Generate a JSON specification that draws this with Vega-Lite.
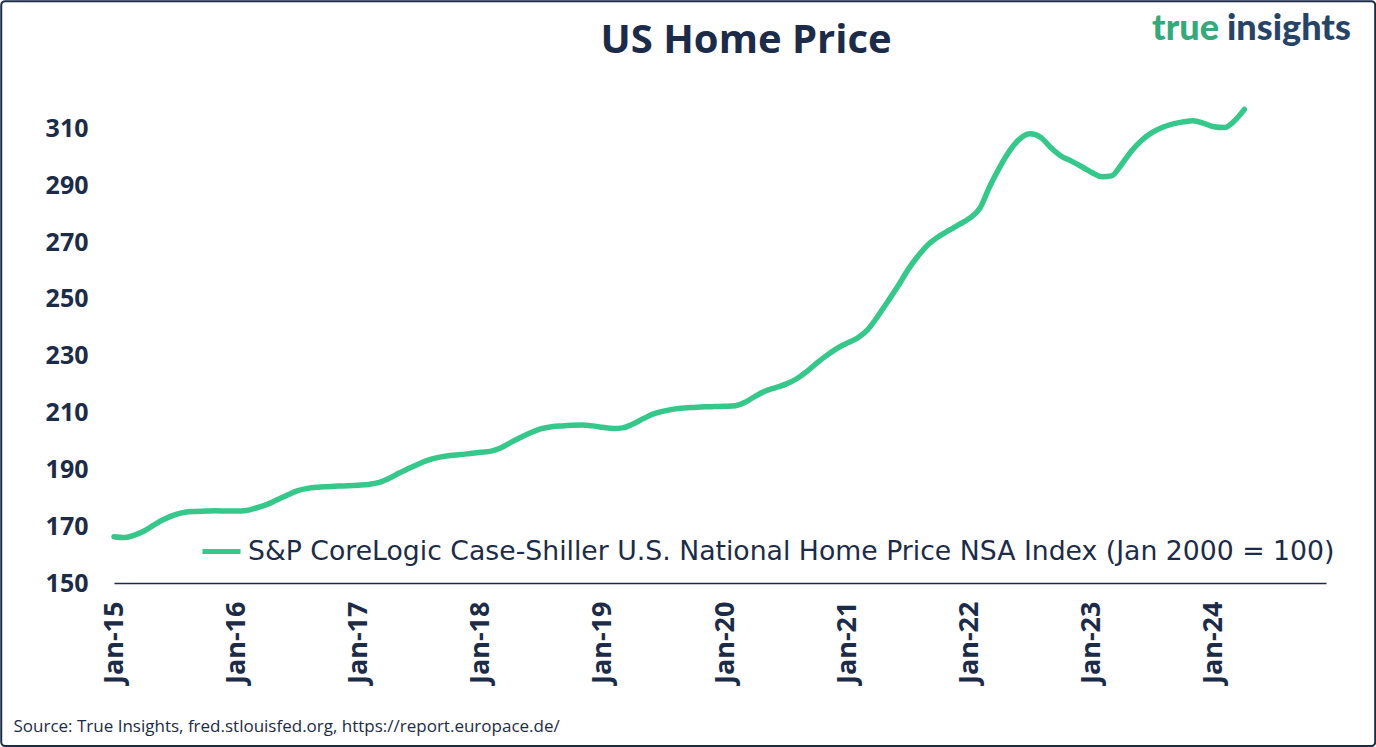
{
 "$schema": "https://vega.github.io/schema/vega-lite/v6.json",
 "width": 1212, "height": 483,
 "autosize": {"type": "none"},
 "padding": {"left": 114, "top": 100, "right": 50, "bottom": 164},
 "background": "white",
 "config": {"view": {"stroke": null}, "font": "Open Sans"},
 "layer": [
  {
   "data": {"values": [{}]},
   "mark": {"type": "rect", "fillOpacity": 0, "stroke": "#1c2b47", "strokeWidth": 2, "cornerRadius": 4},
   "encoding": {
    "x": {"datum": {"year": 2014, "month": 1, "date": 29, "utc": true}, "type": "temporal", "scale": {"type": "utc", "domain": [{"year": 2015, "month": 1, "date": 1, "utc": true}, {"year": 2024, "month": 12, "date": 1, "utc": true}]}},
    "x2": {"datum": {"year": 2025, "month": 4, "date": 27, "utc": true}},
    "y": {"datum": 354.8, "type": "quantitative"},
    "y2": {"datum": 92.6}
   }
  },
  {
   "data": {"values": [{}]},
   "mark": {"type": "text", "text": "US Home Price", "align": "center", "baseline": "alphabetic", "fontSize": 40, "fontWeight": "bold", "font": "Open Sans", "color": "#1c2b47"},
   "encoding": {
    "x": {"datum": {"year": 2020, "month": 3, "date": 4, "utc": true}, "type": "temporal"},
    "y": {"datum": 336.5, "type": "quantitative"}
   }
  },
  {
   "data": {"values": [{}]},
   "mark": {"type": "text", "text": "true", "align": "right", "dx": -4, "baseline": "alphabetic", "fontSize": 36, "fontWeight": 900, "font": "Lato", "color": "#35a97b"},
   "encoding": {
    "x": {"datum": {"year": 2024, "month": 1, "date": 28, "utc": true}, "type": "temporal"},
    "y": {"datum": 341.1, "type": "quantitative"}
   }
  },
  {
   "data": {"values": [{}]},
   "mark": {"type": "text", "text": "insights", "align": "left", "dx": 4, "baseline": "alphabetic", "fontSize": 36, "fontWeight": 900, "font": "Lato", "color": "#264466"},
   "encoding": {
    "x": {"datum": {"year": 2024, "month": 1, "date": 28, "utc": true}, "type": "temporal"},
    "y": {"datum": 341.1, "type": "quantitative"}
   }
  },
  {
   "data": {"values": [
    {"date": "2015-01-01", "value": 166.3}, {"date": "2015-02-01", "value": 166.0}, {"date": "2015-03-01", "value": 166.8}, {"date": "2015-04-01", "value": 168.3},
    {"date": "2015-05-01", "value": 170.5}, {"date": "2015-06-01", "value": 172.5}, {"date": "2015-07-01", "value": 174.0}, {"date": "2015-08-01", "value": 174.9},
    {"date": "2015-09-01", "value": 175.2}, {"date": "2015-10-01", "value": 175.3}, {"date": "2015-11-01", "value": 175.4}, {"date": "2015-12-01", "value": 175.3},
    {"date": "2016-01-01", "value": 175.3}, {"date": "2016-02-01", "value": 175.5}, {"date": "2016-03-01", "value": 176.4}, {"date": "2016-04-01", "value": 177.6},
    {"date": "2016-05-01", "value": 179.2}, {"date": "2016-06-01", "value": 180.9}, {"date": "2016-07-01", "value": 182.4}, {"date": "2016-08-01", "value": 183.3},
    {"date": "2016-09-01", "value": 183.7}, {"date": "2016-10-01", "value": 183.9}, {"date": "2016-11-01", "value": 184.1}, {"date": "2016-12-01", "value": 184.2},
    {"date": "2017-01-01", "value": 184.4}, {"date": "2017-02-01", "value": 184.7}, {"date": "2017-03-01", "value": 185.3}, {"date": "2017-04-01", "value": 186.8},
    {"date": "2017-05-01", "value": 188.6}, {"date": "2017-06-01", "value": 190.4}, {"date": "2017-07-01", "value": 192.0}, {"date": "2017-08-01", "value": 193.4},
    {"date": "2017-09-01", "value": 194.3}, {"date": "2017-10-01", "value": 194.9}, {"date": "2017-11-01", "value": 195.2}, {"date": "2017-12-01", "value": 195.6},
    {"date": "2018-01-01", "value": 196.0}, {"date": "2018-02-01", "value": 196.4}, {"date": "2018-03-01", "value": 197.5}, {"date": "2018-04-01", "value": 199.5},
    {"date": "2018-05-01", "value": 201.3}, {"date": "2018-06-01", "value": 203.0}, {"date": "2018-07-01", "value": 204.3}, {"date": "2018-08-01", "value": 205.0},
    {"date": "2018-09-01", "value": 205.3}, {"date": "2018-10-01", "value": 205.5}, {"date": "2018-11-01", "value": 205.6}, {"date": "2018-12-01", "value": 205.3},
    {"date": "2019-01-01", "value": 204.8}, {"date": "2019-02-01", "value": 204.4}, {"date": "2019-03-01", "value": 204.6}, {"date": "2019-04-01", "value": 206.0},
    {"date": "2019-05-01", "value": 207.8}, {"date": "2019-06-01", "value": 209.5}, {"date": "2019-07-01", "value": 210.5}, {"date": "2019-08-01", "value": 211.2},
    {"date": "2019-09-01", "value": 211.6}, {"date": "2019-10-01", "value": 211.8}, {"date": "2019-11-01", "value": 212.0}, {"date": "2019-12-01", "value": 212.1},
    {"date": "2020-01-01", "value": 212.2}, {"date": "2020-02-01", "value": 212.4}, {"date": "2020-03-01", "value": 213.6}, {"date": "2020-04-01", "value": 215.8},
    {"date": "2020-05-01", "value": 217.6}, {"date": "2020-06-01", "value": 218.8}, {"date": "2020-07-01", "value": 220.0}, {"date": "2020-08-01", "value": 221.8},
    {"date": "2020-09-01", "value": 224.4}, {"date": "2020-10-01", "value": 227.4}, {"date": "2020-11-01", "value": 230.2}, {"date": "2020-12-01", "value": 232.6},
    {"date": "2021-01-01", "value": 234.5}, {"date": "2021-02-01", "value": 236.3}, {"date": "2021-03-01", "value": 239.0}, {"date": "2021-04-01", "value": 243.8},
    {"date": "2021-05-01", "value": 249.0}, {"date": "2021-06-01", "value": 254.5}, {"date": "2021-07-01", "value": 260.3}, {"date": "2021-08-01", "value": 265.3},
    {"date": "2021-09-01", "value": 269.3}, {"date": "2021-10-01", "value": 272.0}, {"date": "2021-11-01", "value": 274.2}, {"date": "2021-12-01", "value": 276.2},
    {"date": "2022-01-01", "value": 278.4}, {"date": "2022-02-01", "value": 282.0}, {"date": "2022-03-01", "value": 289.3}, {"date": "2022-04-01", "value": 296.4},
    {"date": "2022-05-01", "value": 302.2}, {"date": "2022-06-01", "value": 306.4}, {"date": "2022-07-01", "value": 308.1}, {"date": "2022-08-01", "value": 306.9},
    {"date": "2022-09-01", "value": 303.2}, {"date": "2022-10-01", "value": 300.3}, {"date": "2022-11-01", "value": 298.5}, {"date": "2022-12-01", "value": 296.6},
    {"date": "2023-01-01", "value": 294.5}, {"date": "2023-02-01", "value": 293.0}, {"date": "2023-03-01", "value": 293.3}, {"date": "2023-04-01", "value": 297.5},
    {"date": "2023-05-01", "value": 302.2}, {"date": "2023-06-01", "value": 306.0}, {"date": "2023-07-01", "value": 308.6}, {"date": "2023-08-01", "value": 310.4},
    {"date": "2023-09-01", "value": 311.6}, {"date": "2023-10-01", "value": 312.3}, {"date": "2023-11-01", "value": 312.7}, {"date": "2023-12-01", "value": 311.8},
    {"date": "2024-01-01", "value": 310.6}, {"date": "2024-02-01", "value": 310.3}, {"date": "2024-03-01", "value": 312.5}, {"date": "2024-04-01", "value": 316.7}
   ]},
   "mark": {"type": "line", "strokeWidth": 5.5, "interpolate": "monotone", "strokeCap": "round", "strokeJoin": "round"},
   "encoding": {
    "x": {"field": "date", "type": "temporal",
     "scale": {"type": "utc", "domain": [{"year": 2015, "month": 1, "date": 1, "utc": true}, {"year": 2024, "month": 12, "date": 1, "utc": true}]},
     "axis": {
      "values": [
       {"year": 2015, "month": 1, "date": 1, "utc": true}, {"year": 2016, "month": 1, "date": 1, "utc": true}, {"year": 2017, "month": 1, "date": 1, "utc": true},
       {"year": 2018, "month": 1, "date": 1, "utc": true}, {"year": 2019, "month": 1, "date": 1, "utc": true}, {"year": 2020, "month": 1, "date": 1, "utc": true},
       {"year": 2021, "month": 1, "date": 1, "utc": true}, {"year": 2022, "month": 1, "date": 1, "utc": true}, {"year": 2023, "month": 1, "date": 1, "utc": true},
       {"year": 2024, "month": 1, "date": 1, "utc": true}
      ],
      "labelExpr": "'Jan-' + utcFormat(datum.value, '%y')",
      "labelAngle": 270, "labelAlign": "right", "labelBaseline": "middle",
      "labelFontSize": 27, "labelFontWeight": "bold", "labelColor": "#1c2b47", "labelFont": "Open Sans",
      "labelPadding": 18, "labelFlush": false, "labelOverlap": false,
      "ticks": false, "grid": false, "domainColor": "#1c2b47", "domainWidth": 1.5,
      "title": "Source: True Insights, fred.stlouisfed.org, https://report.europace.de/",
      "titleX": -101, "titleY": 148, "titleAlign": "left", "titleBaseline": "alphabetic", "titleAngle": 0,
      "titleFontSize": 17, "titleFontWeight": "normal", "titleColor": "#1c2b47", "titleFont": "Open Sans"
     }
    },
    "y": {"field": "value", "type": "quantitative",
     "scale": {"domain": [150, 320], "nice": false, "zero": false},
     "axis": {
      "values": [150, 170, 190, 210, 230, 250, 270, 290, 310],
      "labelFontSize": 25, "labelFontWeight": "bold", "labelColor": "#1c2b47", "labelFont": "Open Sans",
      "labelPadding": 26, "ticks": false, "domain": false,
      "gridColor": "#8a949f", "gridWidth": 1, "title": null
     }
    },
    "color": {"datum": "S&P CoreLogic Case-Shiller U.S. National Home Price NSA Index (Jan 2000 = 100)",
     "scale": {"range": ["#36c88b"]},
     "legend": {"orient": "none", "legendX": 86, "legendY": 430, "title": null, "symbolType": "stroke", "symbolStrokeWidth": 5, "symbolSize": 1444,
      "labelFontSize": 26.7, "labelFont": "DejaVu Sans", "labelColor": "#1c2b47", "labelLimit": 0, "labelOffset": 5}
    }
   }
  }
 ]
}
